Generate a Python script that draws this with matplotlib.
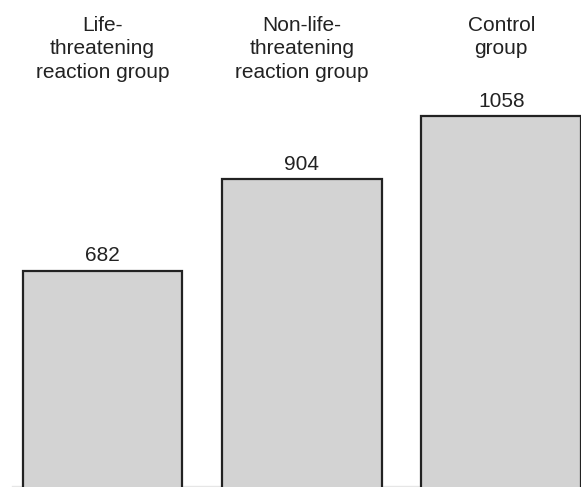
import numpy as np
import matplotlib
matplotlib.use("Agg")
import matplotlib.pyplot as plt

groups = ["Life-\nthreatening\nreaction group",
          "Non-life-\nthreatening\nreaction group",
          "Control\ngroup"]
counts = [682, 904, 1058]

plt.rcParams['font.family'] = ['Liberation Sans', 'DejaVu Sans']

fig = plt.figure(figsize=(5.81, 4.87), dpi=100)
ax = fig.add_axes([0, 0, 1, 1])

x = np.arange(len(counts))
bars = ax.bar(x, counts, width=0.8, color='#d3d3d3', edgecolor='#222222', linewidth=1.6)

# value labels just above each bar
for b, v in zip(bars, counts):
    ax.annotate(str(v), (b.get_x() + b.get_width() / 2, v),
                xytext=(0, 4), textcoords='offset points',
                ha='center', va='bottom', fontsize=15, color='#222222')

# group names across the top
for xi, g in zip(x, groups):
    ax.text(xi, 0.968, g, transform=ax.get_xaxis_transform(),
            ha='center', va='top', fontsize=15, linespacing=1.3, color='#222222')

ax.set_xlim(-0.513, 2.40)
ax.set_ylim(155, 1341)
ax.axhline(157, xmin=0.02, color='#e6e6e6', linewidth=1, zorder=0)
ax.axis('off')

fig.savefig("out.png", dpi=100)
